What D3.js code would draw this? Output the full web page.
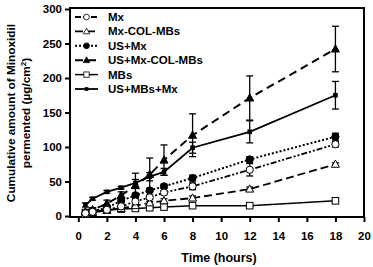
<!DOCTYPE html>
<html>
<head>
<meta charset="utf-8">
<script src="https://cdn.jsdelivr.net/npm/d3@7"></script>
<style>
  body { margin: 0; background: #fff; }
  svg { display: block; }
  text { font-family: "Liberation Sans", Arial, sans-serif; font-weight: bold; fill: #000; }
</style>
</head>
<body>
<svg id="chart"></svg>
<script>
// sampling times (hours)
const times = [0.5, 1, 2, 3, 4, 5, 6, 8, 12, 18];

// series names, legend order
const seriesNames = ['Mx', 'Mx-COL-MBs', 'US+Mx', 'US+Mx-COL-MBs', 'MBs', 'US+MBs+Mx'];

// cumulative amount (ug/cm2) and error
const mxValues = [4, 6, 9, 14, 21, 27, 34, 43, 67, 104];
const mxErrors = [1, 1, 2, 2, 3, 3, 3, 5, 9, 4];
const mxColValues = [3, 5, 8, 11, 15, 19, 22, 26, 39, 75];
const mxColErrors = [1, 1, 1, 2, 2, 2, 3, 3, 3, 2];
const usMxValues = [4, 7, 12, 22, 30, 37, 43, 55, 82, 115];
const usMxErrors = [1, 2, 2, 3, 3, 3, 3, 4, 4, 5];
const usMxColValues = [6, 9, 18, 30, 44, 60, 81, 117, 171, 242];
const usMxColErrors = [2, 3, 5, 5, 18, 24, 22, 31, 32, 33];
const mbsValues = [5, 7, 9, 10, 11, 12, 13, 15, 15, 22];
const mbsErrors = [1, 1, 1, 1, 1, 1, 1, 1, 1, 1];
const usMbsMxValues = [16, 25, 35, 41, 48, 57, 64, 99, 122, 175];
const usMbsMxErrors = [3, 2, 2, 2, 5, 6, 5, 8, 16, 20];

const xTicks = [0, 2, 4, 6, 8, 10, 12, 14, 16, 18, 20];
const yTicks = [0, 50, 100, 150, 200, 250, 300];

const config = {
  width: 373, height: 267,
  left: 70, right: 364, top: 8, bottom: 217
};

// drawing style per series
const styles = [
  {dash: '6,2,2,2,2,2', marker: 'circle', fill: '#fff', width: 1.8},
  {dash: '8,4', marker: 'triangle', fill: '#fff', width: 1.8},
  {dash: '2,2', marker: 'circle', fill: '#000', width: 2},
  {dash: '8,5', marker: 'triangle', fill: '#000', width: 2},
  {dash: null, marker: 'square', fill: '#fff', width: 1.5},
  {dash: null, marker: 'smallsquare', fill: '#000', width: 1.8}
];

const series = [
  [mxValues, mxErrors], [mxColValues, mxColErrors], [usMxValues, usMxErrors],
  [usMxColValues, usMxColErrors], [mbsValues, mbsErrors], [usMbsMxValues, usMbsMxErrors]
].map((s, i) => ({
  name: seriesNames[i],
  style: styles[i],
  points: times.map((t, j) => ({t: t, v: s[0][j], e: s[1][j]}))
}));

const svg = d3.select('#chart')
    .attr('width', config.width)
    .attr('height', config.height);

const xScale = d3.scaleLinear()
    .domain([-0.58, 20])
    .range([config.left, config.right]);
const yScale = d3.scaleLinear()
    .domain([0, 300])
    .range([config.bottom - 1, config.top + 1]);

// axes
const xAxis = d3.axisBottom(xScale)
    .tickValues(xTicks)
    .tickSize(5)
    .tickPadding(10)
    .tickSizeOuter(0);
const yAxis = d3.axisLeft(yScale)
    .tickValues(yTicks)
    .tickSize(5)
    .tickPadding(3)
    .tickSizeOuter(0);

const gx = svg.append('g')
    .attr('transform', `translate(0,${config.bottom})`)
    .call(xAxis);
gx.select('.domain').remove();
const gy = svg.append('g')
    .attr('transform', `translate(${config.left},0)`)
    .call(yAxis);
gy.select('.domain').remove();
svg.selectAll('.tick line').attr('stroke', '#000').attr('stroke-width', 2);
svg.selectAll('.tick text').attr('font-size', '11.5px').attr('font-weight', 'bold')
    .attr('font-family', '"Liberation Sans", Arial, sans-serif');

// frame
svg.append('rect')
    .attr('x', config.left)
    .attr('y', config.top)
    .attr('width', config.right - config.left)
    .attr('height', config.bottom - config.top)
    .attr('fill', 'none')
    .attr('stroke', '#000')
    .attr('stroke-width', 2);

// axis titles
svg.append('text')
    .attr('x', 219)
    .attr('y', 262)
    .attr('text-anchor', 'middle')
    .attr('font-size', '12.5px')
    .text('Time (hours)');

const yTitle = svg.append('text')
    .attr('transform', 'translate(15,113) rotate(-90)')
    .attr('text-anchor', 'middle')
    .attr('font-size', '11.8px');
yTitle.append('tspan').attr('x', 0).attr('y', 0).text('Cumulative amount of Minoxidil');
const l2 = yTitle.append('tspan').attr('x', 0).attr('y', 15).text('permented (µg/cm');
l2.append('tspan').attr('dy', -4).attr('font-size', '8px').text('2');
l2.append('tspan').attr('dy', 4).text(')');

const line = d3.line()
    .x(d => xScale(d.t))
    .y(d => yScale(d.v));

function drawMarker(g, kind, fill) {
  if (kind === 'circle') {
    g.append('circle').attr('r', 3.6).attr('fill', fill).attr('stroke', '#000').attr('stroke-width', 1);
  } else if (kind === 'triangle') {
    g.append('path').attr('d', 'M0,-4.2L4,3L-4,3Z').attr('fill', fill).attr('stroke', '#000').attr('stroke-width', 1);
  } else if (kind === 'square') {
    g.append('rect').attr('x', -3.3).attr('y', -3.3).attr('width', 6.6).attr('height', 6.6)
        .attr('fill', fill).attr('stroke', '#000').attr('stroke-width', 1);
  } else {
    g.append('rect').attr('x', -2.3).attr('y', -2.3).attr('width', 4.6).attr('height', 4.6)
        .attr('fill', fill);
  }
}

const plot = svg.append('g');

// draw in reverse so that lower series sit on top the way the original does
series.slice().reverse().forEach(s => {
  const g = plot.append('g');
  // error bars
  s.points.forEach(d => {
    const x = xScale(d.t);
    const y0 = yScale(d.v - d.e), y1 = yScale(d.v + d.e);
    g.append('line').attr('x1', x).attr('x2', x).attr('y1', y0).attr('y2', y1)
        .attr('stroke', '#000').attr('stroke-width', 1.3);
    [y0, y1].forEach(y => g.append('line')
        .attr('x1', x - 3.5).attr('x2', x + 3.5).attr('y1', y).attr('y2', y)
        .attr('stroke', '#000').attr('stroke-width', 1.3));
  });
  g.append('path')
      .datum(s.points)
      .attr('d', line)
      .attr('fill', 'none')
      .attr('stroke', '#000')
      .attr('stroke-width', s.style.width)
      .attr('stroke-dasharray', s.style.dash);
  s.points.forEach(d => {
    const m = g.append('g').attr('transform', `translate(${xScale(d.t)},${yScale(d.v)})`);
    drawMarker(m, s.style.marker, s.style.fill);
  });
});

// legend
const legend = svg.append('g').attr('transform', 'translate(75,17)');
series.forEach((s, i) => {
  const row = legend.append('g').attr('transform', `translate(0,${i * 14.4})`);
  row.append('line')
      .attr('x1', 0).attr('x2', 23).attr('y1', 0).attr('y2', 0)
      .attr('stroke', '#000')
      .attr('stroke-width', s.style.width)
      .attr('stroke-dasharray', s.style.dash);
  const m = row.append('g').attr('transform', 'translate(11.5,0) scale(0.8)');
  drawMarker(m, s.style.marker, s.style.fill);
  row.append('text')
      .attr('x', 33)
      .attr('y', 4)
      .attr('font-size', '11.5px')
      .text(s.name);
});
</script>
</body>
</html>
